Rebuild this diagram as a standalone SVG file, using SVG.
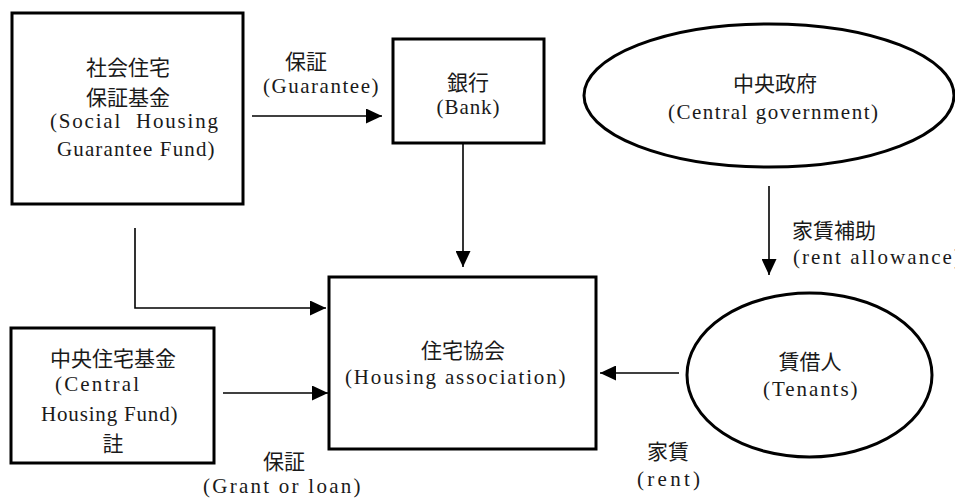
<svg xmlns="http://www.w3.org/2000/svg" width="955" height="498" viewBox="0 0 955 498">
<style>
.box{fill:#fff;stroke:#000;stroke-width:3}
.ell{fill:#fff;stroke:#000;stroke-width:3}
.cn{fill:none;stroke:#000;stroke-width:1.6}
.cjk{font-family:"Noto Sans CJK JP","Noto Sans CJK SC",sans-serif;font-size:21px;fill:#1a1a1a}
.lat{font-family:"Liberation Serif",serif;font-size:21px;fill:#1a1a1a}
.m{text-anchor:middle}
</style>
<defs>
<marker id="ah" markerUnits="userSpaceOnUse" markerWidth="17" markerHeight="15" refX="16" refY="7.5" orient="auto">
<path d="M0,0 L16,7.5 L0,15 z" fill="#000"/>
</marker>
</defs>
<rect width="955" height="498" fill="#fff"/>
<g id="connectors">
<line class="cn" x1="252" y1="116" x2="382" y2="116" marker-end="url(#ah)"/>
<line class="cn" x1="463" y1="143" x2="463" y2="267" marker-end="url(#ah)"/>
<line class="cn" x1="769" y1="186" x2="769" y2="275" marker-end="url(#ah)"/>
<line class="cn" x1="679" y1="373" x2="600" y2="373" marker-end="url(#ah)"/>
<polyline class="cn" points="135,228 135,308 326,308" marker-end="url(#ah)"/>
<line class="cn" x1="223" y1="393" x2="328" y2="393" marker-end="url(#ah)"/>
<text class="cjk m" x="306" y="69">保証</text>
<text class="lat" x="263" y="93" textLength="115.5" lengthAdjust="spacing">(Guarantee)</text>
<text class="cjk" x="792" y="238">家賃補助</text>
<text class="lat" x="793" y="264" textLength="168" lengthAdjust="spacing">(rent allowance)</text>
<text class="cjk m" x="668" y="459">家賃</text>
<text class="lat" x="637" y="486" textLength="63" lengthAdjust="spacing">(rent)</text>
<text class="cjk m" x="284" y="469">保証</text>
<text class="lat" x="203" y="493" textLength="157.5" lengthAdjust="spacing">(Grant or loan)</text>
</g>
<g id="social-housing-guarantee-fund">
<rect class="box" x="12" y="13" width="231" height="191"/>
<text class="cjk m" x="128" y="75">社会住宅</text>
<text class="cjk m" x="128" y="105">保証基金</text>
<text class="lat" x="50" y="128" textLength="168" lengthAdjust="spacing" xml:space="preserve">(Social  Housing</text>
<text class="lat" x="57" y="156" textLength="157.5" lengthAdjust="spacing">Guarantee Fund)</text>
</g>
<g id="bank">
<rect class="box" x="393" y="39" width="151" height="104"/>
<text class="cjk m" x="468" y="90">銀行</text>
<text class="lat" x="436.5" y="114" textLength="63" lengthAdjust="spacing">(Bank)</text>
</g>
<g id="central-government">
<ellipse class="ell" cx="769" cy="95.5" rx="185" ry="71.5"/>
<text class="cjk m" x="775" y="91">中央政府</text>
<text class="lat" x="668" y="119" textLength="210" lengthAdjust="spacing">(Central government)</text>
</g>
<g id="housing-association">
<rect class="box" x="329" y="277" width="267" height="172"/>
<text class="cjk m" x="463" y="358">住宅協会</text>
<text class="lat" x="345" y="384" textLength="220.5" lengthAdjust="spacing">(Housing association)</text>
</g>
<g id="tenants">
<ellipse class="ell" cx="809.5" cy="375" rx="122.5" ry="82"/>
<text class="cjk m" x="810" y="369">賃借人</text>
<text class="lat" x="763" y="396" textLength="94.5" lengthAdjust="spacing">(Tenants)</text>
</g>
<g id="central-housing-fund">
<rect class="box" x="11" y="328" width="203" height="135"/>
<text class="cjk m" x="113" y="366">中央住宅基金</text>
<text class="lat" x="55" y="391" textLength="84" lengthAdjust="spacing">(Central</text>
<text class="lat" x="41" y="421" textLength="136.5" lengthAdjust="spacing">Housing Fund)</text>
<text class="cjk m" x="113" y="451">註</text>
</g>
</svg>
